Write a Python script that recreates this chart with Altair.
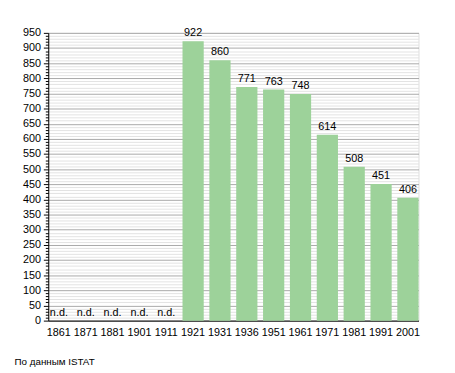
import altair as alt
import pandas as pd

years = ["1861", "1871", "1881", "1901", "1911", "1921", "1931", "1936",
         "1951", "1961", "1971", "1981", "1991", "2001"]
values = [None, None, None, None, None, 922, 860, 771, 763, 748, 614, 508, 451, 406]
y_ticks = list(range(0, 951, 10))
source_note = "По данным ISTAT"

df = pd.DataFrame({"year": years, "value": values})
df["label"] = [("n.d." if v is None else str(v)) for v in values]

FONT = "Liberation Sans"

x_axis = alt.Axis(labelAngle=0, ticks=False, domainColor="black",
                  labelColor="black", labelFontSize=11, labelFont=FONT,
                  labelPadding=6, grid=False)
x_scale = alt.Scale(paddingInner=0.21, paddingOuter=0.0)

y_scale = alt.Scale(domain=[0, 950], nice=False)
y_axis = alt.Axis(values=y_ticks,
                  labelExpr="datum.value % 50 === 0 ? datum.label : ''",
                  grid=True,
                  gridColor={"condition": {"test": "datum.value % 50 === 0", "value": "#a8a8a8"}, "value": "#e2e2e2"},
                  gridWidth=1,
                  tickSize={"condition": {"test": "datum.value % 50 === 0", "value": 5}, "value": 3},
                  tickColor="black", domainColor="black",
                  labelColor="black", labelFontSize=11, labelFont=FONT,
                  labelPadding=3, labelOverlap=False, labelFlush=False)

base = alt.Chart(df).transform_calculate(
    ypos="isValid(datum.value) ? datum.value : 0"
)

bars = base.transform_filter("isValid(datum.value)").mark_bar(
    color="#9dd29a"
).encode(
    x=alt.X("year:N", sort=years, title=None, scale=x_scale, axis=x_axis),
    y=alt.Y("ypos:Q", scale=y_scale, title=None, axis=y_axis),
)

labels = base.mark_text(baseline="bottom", dy=-3, fontSize=11, font=FONT, color="black").encode(
    x=alt.X("year:N", sort=years, title=None, scale=x_scale, axis=x_axis),
    y=alt.Y("ypos:Q", scale=y_scale, title=None, axis=y_axis),
    text="label:N",
)

chart = alt.layer(bars, labels).properties(
    width=377, height=293,
    autosize=alt.AutoSizeParams(type="none"),
    padding={"left": 41, "top": 22, "right": 29, "bottom": 50},
    title=alt.TitleParams(source_note, orient="bottom", anchor="start", frame="bounds",
                          fontSize=10, fontWeight="normal", font=FONT, color="black",
                          offset=20, dx=-8),
).configure_view(stroke=None).configure(background="white")

chart.save("out.html", embed_options={"renderer": "svg", "actions": False})
